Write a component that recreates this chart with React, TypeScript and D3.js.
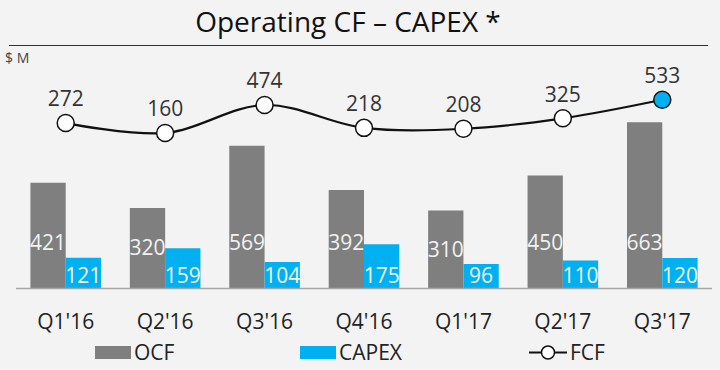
import React from 'react';
import * as d3 from 'd3';

const quarters = ["Q1'16", "Q2'16", "Q3'16", "Q4'16", "Q1'17", "Q2'17", "Q3'17"];
const ocf = [421, 320, 569, 392, 310, 450, 663];
const capex = [121, 159, 104, 175, 96, 110, 120];
const fcf = [272, 160, 474, 218, 208, 325, 533];

const W = 720;
const H = 370;
const font = "'Open Sans', 'Noto Sans', sans-serif";
const GRAY = '#7f7f7f';
const BLUE = '#00b0f0';

const App = () => {
  const baseline = 288;
  const x = d3.scaleBand<string>().domain(quarters).range([16, 712]).paddingInner(0.29).paddingOuter(0.145);
  const half = x.bandwidth() / 2;
  const y = d3.scaleLinear().domain([0, 700]).range([baseline, baseline - 175]);
  // FCF uses its own (secondary) scale
  const yF = d3.scaleLinear().domain([0, 600]).range([147.3, 93.8]);
  const cx = (q: string) => (x(q) ?? 0) + half;

  const line = d3
    .line<number>()
    .x((_, i) => cx(quarters[i]))
    .y((d) => yF(d))
    .curve(d3.curveCatmullRom.alpha(0.5));

  return (
    <div style={{ position: 'fixed', left: 0, top: 0 }}>
      <svg width={W} height={H} style={{ display: 'block', fontFamily: font }}>
        <rect width={W} height={H} fill="#f3f3f3" />
        <text x={348} y={32} textAnchor="middle" fontSize={28} fill="#111">
          Operating CF – CAPEX *
        </text>
        <line x1={9} x2={708} y1={45.5} y2={45.5} stroke="#1f3550" strokeWidth={1.2} />
        <text x={5} y={63} fontSize={14} fill="#444">$ M</text>

        {quarters.map((q, i) => {
          const x0 = x(q) ?? 0;
          const yo = y(ocf[i]);
          const yc = y(capex[i]);
          const labY = Math.max((yo + baseline) / 2, baseline - 45);
          return (
            <g key={q}>
              <rect x={x0} y={yo} width={half} height={baseline - yo} fill={GRAY} />
              <rect x={x0 + half} y={yc} width={half} height={baseline - yc} fill={BLUE} />
              <text x={x0 + half / 2} y={labY} dy="0.35em" textAnchor="middle" fontSize={21} fill="#f2f2f2">
                {ocf[i]}
              </text>
              <text x={x0 + half * 1.5} y={276} dy="0.35em" textAnchor="middle" fontSize={21} fill="#f2f2f2">
                {capex[i]}
              </text>
              <text x={cx(q)} y={322} dy="0.35em" textAnchor="middle" fontSize={21} fill="#222">
                {q}
              </text>
            </g>
          );
        })}
        <line x1={16} x2={712} y1={baseline + 0.5} y2={baseline + 0.5} stroke="#a6a6a6" strokeWidth={1.5} />

        <path d={line(fcf) ?? ''} fill="none" stroke="#111" strokeWidth={2.2} />
        {fcf.map((v, i) => (
          <g key={i}>
            <circle
              cx={cx(quarters[i])}
              cy={yF(v)}
              r={8.5}
              fill={i === fcf.length - 1 ? BLUE : '#fff'}
              stroke="#111"
              strokeWidth={1.5}
            />
            <text x={cx(quarters[i])} y={yF(v) - 24} dy="0.35em" textAnchor="middle" fontSize={21} fill="#333">
              {v}
            </text>
          </g>
        ))}

        {/* legend */}
        <rect x={95} y={346} width={36} height={13} fill={GRAY} />
        <text x={134} y={352.5} dy="0.35em" fontSize={21} fill="#222">OCF</text>
        <rect x={300} y={346} width={36} height={13} fill={BLUE} />
        <text x={339} y={352.5} dy="0.35em" fontSize={21} fill="#222">CAPEX</text>
        <line x1={529} x2={567} y1={352.5} y2={352.5} stroke="#111" strokeWidth={2} />
        <circle cx={548} cy={352.5} r={6.5} fill="#fff" stroke="#111" strokeWidth={1.5} />
        <text x={570} y={352.5} dy="0.35em" fontSize={21} fill="#222">FCF</text>
      </svg>
    </div>
  );
};

export default App;
